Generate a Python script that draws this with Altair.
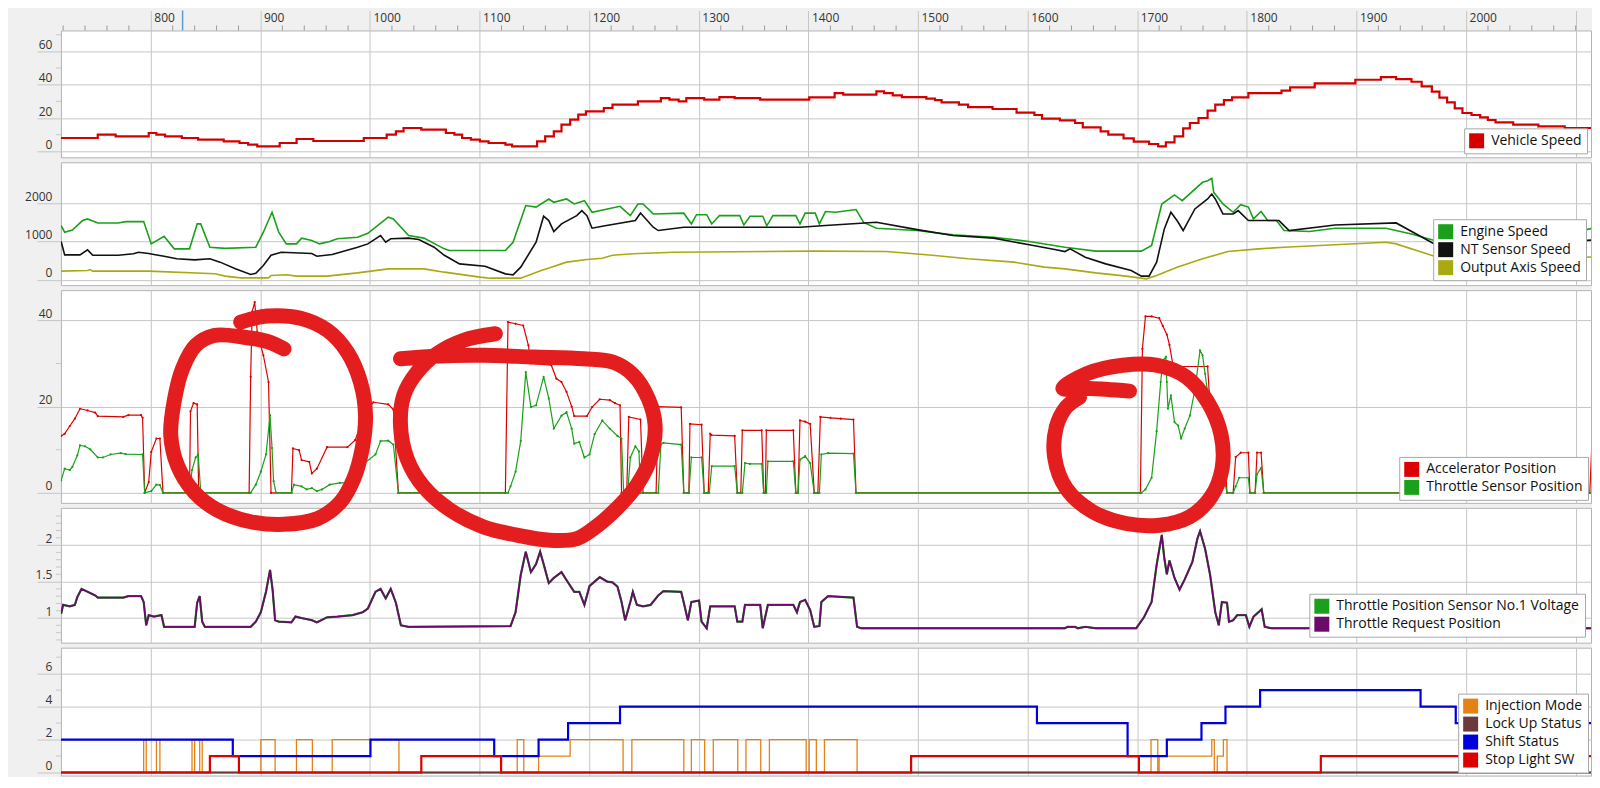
import altair as alt
import pandas as pd

FONT = "Open Sans"
GRID = "#c6c6c6"
W = 1532
X_DOMAIN = [718, 2114]

# ---------------- tick arrays ----------------
x_major = [800, 900, 1000, 1100, 1200, 1300, 1400, 1500, 1600, 1700, 1800, 1900, 2000, 2100]
x_minor = [720, 740, 760, 780, 820, 840, 860, 880, 920, 940, 960, 980, 1020, 1040, 1060, 1080,
           1120, 1140, 1160, 1180, 1220, 1240, 1260, 1280, 1320, 1340, 1360, 1380, 1420, 1440,
           1460, 1480, 1520, 1540, 1560, 1580, 1620, 1640, 1660, 1680, 1720, 1740, 1760, 1780,
           1820, 1840, 1860, 1880, 1920, 1940, 1960, 1980, 2020, 2040, 2060, 2080, 2100]
cursor_t = [829]

p1_ticks = [0, 20, 40, 60]
p1_minor = [10, 30, 50, 70]
p2_ticks = [0, 1000, 2000]
p2_minor = []
p3_ticks = [0, 20, 40]
p3_minor = [10, 30]
p4_ticks = [1, 1.5, 2]
p4_minor = [0.7, 0.8, 0.9, 1.1, 1.2, 1.3, 1.4, 1.6, 1.7, 1.8, 1.9, 2.1, 2.2, 2.3, 2.4]
p5_ticks = [0, 2, 4, 6]
p5_minor = [1, 3, 5, 7]

# ---------------- panel 1 ----------------
vehicle_speed = [
    (718, 8), (751.6, 10), (767.9, 9), (798.1, 11), (805.1, 10), (813, 9), (828.3, 8), (843.2, 7),
    (866.5, 6), (880.9, 5), (888.8, 4), (897.1, 3), (917.6, 5), (933, 7.4), (948.3, 6.2), (994.3, 8),
    (1015.2, 10), (1023.6, 12), (1030.6, 14), (1046.8, 13), (1069.2, 11), (1077, 10), (1084, 8),
    (1092, 7), (1100.3, 6), (1108.2, 5), (1123.5, 4), (1129.6, 3), (1152.4, 6), (1159.8, 9),
    (1167.7, 12), (1174.7, 16), (1182.6, 19), (1190, 22), (1197, 24), (1213.3, 26), (1221.2, 28),
    (1244.4, 30), (1265.4, 32), (1273.2, 31), (1281.6, 30), (1288.6, 32), (1304.9, 31), (1318.8, 32.5),
    (1332.7, 32), (1356, 31), (1400.7, 32.4), (1423.9, 35), (1431.8, 34), (1462, 36), (1469, 35),
    (1476.9, 33.6), (1485.3, 32.6), (1507.6, 31.6), (1515.5, 30.8), (1521.5, 29.4), (1537.3, 28),
    (1545.7, 26.6), (1568, 25.4), (1589.9, 23.2), (1606.2, 21.8), (1613.1, 19.6), (1629.4, 18.6),
    (1643.3, 17), (1650.3, 14.4), (1666.6, 12), (1673.6, 10), (1687.5, 7.8), (1696.8, 5.8),
    (1710.8, 4.4), (1719.1, 3), (1726.1, 5.4), (1734, 9), (1741.9, 13.8), (1748, 17), (1755.9, 20),
    (1764.2, 24.4), (1771.2, 28), (1779.1, 30.8), (1786.5, 32.4), (1801.4, 35), (1831.6, 36.4),
    (1839.5, 38.4), (1861.9, 40.8), (1899, 43), (1922.3, 44.6), (1936.2, 43.4), (1950.2, 41.8),
    (1959.5, 39), (1968.8, 35.8), (1975.7, 32.2), (1982.7, 29.4), (1989.7, 25.8), (1996.7, 23),
    (2005, 21.8), (2012.9, 20.4), (2019.9, 18.8), (2026.9, 17.4), (2043, 16), (2066, 15), (2090, 14),
    (2121, 14)]

# ---------------- panel 2 ----------------
engine_speed = [
    (718.2, 1417), (721.4, 1242), (728.4, 1300), (737.7, 1547), (742.3, 1590), (751.6, 1485),
    (770.2, 1485), (777.2, 1520), (793.5, 1520), (800.4, 937), (812.1, 1138), (821.4, 807),
    (835.3, 807), (842.3, 1459), (845.5, 1459), (853.9, 851), (867.9, 820), (895.8, 851),
    (902.7, 1242), (910.6, 1764), (916.7, 1242), (923.6, 937), (932.9, 937), (937.6, 1088),
    (946.9, 1024), (953.9, 937), (963.2, 1000), (970.1, 1070), (988.7, 1110), (998, 1215),
    (1016.6, 1634), (1021.3, 1590), (1035.2, 1155), (1049.2, 1088), (1067.8, 807), (1072.4, 763),
    (1123.5, 763), (1130.5, 980), (1142.1, 1939), (1151.5, 1900), (1163.1, 2111), (1167.7, 2025),
    (1179.3, 2111), (1186.3, 1980), (1195.6, 2068), (1202.6, 1764), (1228.1, 1920), (1237.5, 1677),
    (1244.4, 1980), (1249.1, 1980), (1258.4, 1720), (1286.3, 1740), (1293.2, 1459), (1297.9, 1700),
    (1307.2, 1700), (1311.8, 1459), (1318.8, 1677), (1337.4, 1677), (1341.1, 1432), (1346.7, 1660),
    (1358.3, 1660), (1362, 1410), (1367.6, 1677), (1388.5, 1677), (1392.3, 1459), (1397, 1740),
    (1406.2, 1740), (1410, 1459), (1415.5, 1783), (1424.8, 1764), (1443.4, 1835), (1450.4, 1500),
    (1462, 1347), (1499.2, 1286), (1531.8, 1172), (1569, 1110), (1601.5, 1000), (1634, 851),
    (1662, 747), (1703.8, 747), (1713.1, 895), (1722.4, 1980), (1734, 2216), (1741, 2068),
    (1759.6, 2547), (1764.2, 2590), (1768, 2652), (1769.8, 2285), (1778.2, 1980), (1787.5, 1764),
    (1794.4, 1960), (1801.4, 1900), (1806, 1590), (1813, 1783), (1819, 1547), (1827, 1547),
    (1834, 1286), (1857.2, 1260), (1880.4, 1347), (1927, 1347), (1950.2, 1198), (1971.1, 1024),
    (2000, 850), (2030, 700), (2060, 1000), (2121, 1380)]

nt_sensor_speed = [
    (718.2, 1000), (721.4, 650), (735.4, 650), (742.3, 781), (747, 640), (770.2, 640), (784.2, 680),
    (788.8, 720), (798.1, 684), (802.8, 660), (812.1, 616), (823.7, 547), (840, 520), (853.9, 547),
    (863.2, 460), (877.2, 285), (891.1, 138), (895.8, 168), (902.7, 373), (909.7, 640), (919, 720),
    (946.9, 684), (951.5, 616), (965.5, 660), (988.7, 851), (998, 937), (1009.6, 1156),
    (1014.3, 980), (1018.9, 1070), (1035.2, 1088), (1044.5, 1050), (1058.5, 851), (1067.8, 640),
    (1081.7, 415), (1104.9, 353), (1123.5, 154), (1130.5, 128), (1137.5, 329), (1151.5, 980),
    (1158.4, 1660), (1163.1, 1547), (1167.7, 1260), (1174.7, 1459), (1188.6, 1677), (1193.3, 1808),
    (1197.9, 1677), (1202.6, 1347), (1211.9, 1400), (1242.1, 1547), (1246.8, 1746), (1258.4, 1373),
    (1263, 1286), (1286.3, 1373), (1392.3, 1373), (1415.5, 1416), (1462, 1503), (1499.2, 1310),
    (1531.8, 1155), (1569, 1088), (1601.5, 913), (1624.8, 790), (1634, 737), (1638.7, 806),
    (1652.6, 590), (1671.2, 415), (1694.5, 240), (1703.8, 94), (1710.8, 94), (1717.7, 460),
    (1724.7, 1329), (1730.7, 1764), (1736.3, 1547), (1741.9, 1286), (1752.6, 1850), (1764.2, 2111),
    (1768, 2240), (1771.2, 2111), (1778.2, 1720), (1787.5, 1720), (1792.1, 1808), (1801.4, 1547),
    (1829.3, 1547), (1838.6, 1286), (1880.4, 1432), (1936.2, 1485), (1971.1, 937), (2000, 800),
    (2121, 1050)]

output_axis_speed = [
    (718.2, 225), (742.3, 240), (744.7, 265), (747, 225), (798.1, 225), (858.6, 155), (867.9, 94),
    (881.8, 50), (907.4, 50), (909.7, 111), (923.6, 130), (932.9, 94), (960.8, 94), (988.7, 180),
    (1016.6, 285), (1049.2, 285), (1067.8, 198), (1100.3, 68), (1109.6, 41), (1137.5, 41),
    (1156.1, 240), (1165.4, 329), (1179.3, 460), (1197.9, 530), (1211.9, 563), (1221.2, 640),
    (1239.8, 680), (1277, 720), (1406.2, 747), (1471.3, 737), (1513.2, 640), (1545.7, 547),
    (1587.6, 460), (1615.4, 329), (1634, 285), (1662, 180), (1689.8, 94), (1708.4, 24),
    (1717.7, 111), (1736.3, 329), (1759.6, 547), (1782.8, 737), (1810.7, 806), (1834, 851),
    (1880.4, 913), (1927, 980), (1936.2, 937), (1971.1, 616), (2000, 500), (2121, 600)]

# ---------------- panel 3 ----------------
accelerator_position = [
    (718.2, 13.2), (721.4, 13.7), (726.1, 15.5), (730.7, 17.2), (735.4, 19.5), (742.3, 19.1),
    (749.3, 18.6), (751.6, 17.8), (774.9, 17.6), (779.5, 18), (791.1, 18), (792.5, 17.4), (794.4, 0),
    (798.1, 2.5), (800.4, 9.5), (805.1, 12.6), (808.3, 12.6), (811.1, 0), (835.3, 0), (836.2, 18.9),
    (839, 20.8), (842.3, 20.5), (843.7, 0), (889.7, 0), (891.1, 26.9), (892.5, 42), (894.8, 44.2),
    (897.1, 37.3), (902.7, 31.9), (907.4, 25.7), (909.7, 0), (928.3, 0), (929.7, 10.3),
    (935.3, 9.9), (937.6, 7.6), (944.6, 7.2), (946.9, 4.5), (951.5, 5.6), (960.8, 10.6),
    (979.4, 10.6), (986.4, 12.2), (995, 18), (1003, 21), (1016.6, 20.5), (1021.3, 19.3),
    (1025.9, 0), (1123.5, 0), (1125.9, 39.6), (1132.8, 39.2), (1139.8, 38.8), (1144.5, 34.2),
    (1146.8, 30), (1165.4, 29.6), (1170, 26.5), (1174.7, 25.7), (1179.3, 23.4), (1184, 20),
    (1186.3, 17.8), (1197.9, 17.8), (1202.6, 19.9), (1209.6, 21.7), (1218.8, 21.5), (1223.5, 20.8),
    (1228.1, 20.3), (1229.5, 0), (1234.2, 0), (1236.1, 17.6), (1246.8, 17), (1249.1, 0), (1261, 0),
    (1263, 20), (1283.9, 19.8), (1286.3, 0), (1290.9, 0), (1291.9, 16), (1302.5, 15.8),
    (1304.9, 0), (1308.6, 0), (1310.4, 13.7), (1311.5, 13.4), (1332.7, 13.2), (1335.1, 0),
    (1338.3, 0), (1339.7, 14.5), (1357.4, 14.5), (1359.2, 0), (1360.7, 0), (1361.6, 14.5),
    (1386.2, 14.5), (1388.5, 0), (1390.5, 0), (1392.3, 16.8), (1397, 16.5), (1401.6, 16),
    (1405.3, 0), (1408.6, 0), (1410.9, 17.6), (1420.2, 17.4), (1429.5, 17.2), (1441.1, 17),
    (1443.4, 0), (1702.9, 0), (1704.7, 33.4), (1707.5, 40.9), (1713.1, 40.9), (1720.1, 40.5),
    (1723.3, 38.7), (1727, 36.7), (1729.4, 34.3), (1732.6, 29.6), (1736.3, 29.3), (1764.2, 29.3),
    (1766.5, 20), (1778.2, 14), (1781.9, 0), (1787.5, 0), (1789.8, 8.3), (1794.4, 9.3),
    (1801.4, 9.3), (1802.8, 0), (1807.5, 0), (1809.3, 9.3), (1813, 9.3), (1815.4, 0), (2112.9, 0),
    (2115, 12.6), (2121, 13)]

throttle_sensor_position = [
    (718.2, 2.9), (721.4, 5.6), (726.1, 5.3), (728.4, 6), (733, 8.7), (735.4, 11), (740, 10.8),
    (744.7, 10.1), (751.6, 8.2), (756.3, 8.2), (763.3, 8.9), (772.5, 9.2), (777.2, 9),
    (792.5, 8.9), (794.4, 0), (800.4, 0.4), (805.1, 1.9), (808.3, 1.8), (811.1, 0), (835.3, 0),
    (837.6, 5.3), (840.9, 8.2), (843.2, 8.9), (845.5, 0.4), (846.9, 0), (891.1, 0), (895.8, 1.9),
    (900.4, 4.9), (905.1, 8.9), (908.8, 18), (910.6, 10.4), (912, 2.7), (914.3, 0), (928.3, 0),
    (930.6, 1.9), (937.6, 1.5), (942.2, 0.8), (946.9, 1.1), (951.5, 0.4), (956.2, 0.8),
    (963.2, 1.9), (972.5, 2.3), (979.4, 2.3), (988.7, 5.6), (1005, 8.9), (1009.6, 12),
    (1016.6, 12.1), (1021.3, 11.2), (1025.9, 0), (1125.9, 0), (1128.2, 1.5), (1132.8, 4.9),
    (1137.5, 12), (1142.1, 28), (1146.8, 19.9), (1151.5, 20.3), (1158.4, 26.9), (1163.1, 21.9),
    (1167.7, 14.9), (1174.7, 17.9), (1179.3, 18.7), (1184, 14.9), (1186.3, 11.4), (1191, 11.8),
    (1195.6, 8.2), (1200.3, 8.9), (1204.9, 13.6), (1211.9, 16.8), (1218.8, 14.9), (1225.8, 13.2),
    (1229.5, 12.6), (1231.4, 0), (1235.1, 0), (1237.5, 8.2), (1242.1, 10.8), (1245.4, 9.6),
    (1246.8, 0), (1263, 0), (1265.4, 11.2), (1267.7, 11.6), (1283.9, 11.2), (1286.3, 0),
    (1290.9, 0), (1293.2, 8.2), (1302.5, 8.2), (1304.9, 0), (1309.5, 0), (1311.8, 6.2),
    (1332.7, 6.2), (1335.1, 0), (1339.7, 0), (1342.1, 6.9), (1346.7, 6.7), (1357.4, 6.7),
    (1359.2, 0), (1361.6, 0), (1363, 7.3), (1386.2, 7.3), (1388.5, 0), (1390.5, 0), (1392.3, 7.7),
    (1397, 8.5), (1401.6, 6.9), (1405.3, 0), (1410, 0), (1411.8, 8.9), (1417.9, 9.2),
    (1441.1, 9.1), (1443.4, 0), (1703.8, 0), (1707.5, 0.8), (1713.1, 3.5), (1717.7, 14.3),
    (1721.4, 25.7), (1723.3, 30.7), (1726.1, 31.5), (1727, 25.7), (1728, 19.5), (1730.7, 22.6),
    (1734, 16.4), (1737.3, 15.6), (1740, 12.6), (1743.3, 14.9), (1748, 17.9), (1752.6, 23.9),
    (1757.3, 33), (1759.6, 31.9), (1761.9, 27.6), (1765.6, 20.8), (1773.5, 10.4), (1781.9, 0),
    (1787.5, 0), (1789.8, 1.5), (1793, 3.5), (1801.4, 3.5), (1802.8, 0), (1807.5, 0),
    (1809.3, 4.3), (1813, 5.8), (1815.4, 0), (2121, 0)]

# ---------------- panel 4 (both series overlap in the reference) ----------------
throttle_request_position = [
    (718.2, 1.06), (720, 1.18), (726.1, 1.16), (730.7, 1.18), (733, 1.29), (736.8, 1.4),
    (742.3, 1.36), (749.3, 1.31), (751.6, 1.28), (774.9, 1.28), (779.5, 1.3), (791.1, 1.3),
    (793.5, 1.22), (795.8, 0.9), (798.1, 1.04), (802.8, 1.02), (809.7, 1.04), (812.1, 0.88),
    (840, 0.88), (842.3, 1.21), (844.6, 1.3), (846.9, 0.95), (849.3, 0.88), (891.1, 0.88),
    (895.8, 0.95), (900.4, 1.08), (905.1, 1.36), (908.8, 1.66), (911.1, 1.39), (913.4, 0.97),
    (916.7, 0.95), (928.3, 0.94), (932, 1.02), (937.6, 1.0), (946.9, 0.97), (951.5, 0.94),
    (960.8, 1.01), (970.1, 1.02), (984.1, 1.04), (993.4, 1.08), (998, 1.13), (1005, 1.36),
    (1009.6, 1.4), (1014.3, 1.27), (1018.9, 1.4), (1023.6, 1.21), (1028.2, 0.9), (1035.2, 0.88),
    (1128.2, 0.89), (1132.8, 1.08), (1137.5, 1.59), (1142.1, 1.91), (1146.8, 1.63),
    (1151.5, 1.74), (1155.2, 1.91), (1158.4, 1.74), (1163.1, 1.48), (1167.7, 1.55),
    (1174.7, 1.63), (1179.3, 1.52), (1186.3, 1.36), (1191, 1.36), (1195.6, 1.18), (1200.3, 1.44),
    (1209.6, 1.56), (1216.5, 1.5), (1221.2, 1.49), (1225.8, 1.43), (1229.5, 1.22), (1232.8, 0.97),
    (1237.5, 1.22), (1239.8, 1.36), (1243.5, 1.18), (1249.1, 1.16), (1256, 1.18), (1263, 1.31),
    (1267.7, 1.37), (1283.9, 1.36), (1286.3, 1.21), (1290, 0.97), (1293.2, 1.22), (1300.2, 1.24),
    (1302.5, 0.95), (1307.2, 0.86), (1310.4, 1.16), (1332.7, 1.16), (1335.1, 0.95),
    (1339.7, 0.95), (1342.1, 1.18), (1356, 1.18), (1358.3, 0.86), (1363, 1.18), (1386.2, 1.18),
    (1389.5, 1.08), (1392.3, 1.22), (1397, 1.25), (1401.6, 1.11), (1405.3, 0.88), (1410, 0.89),
    (1411.8, 1.22), (1417.9, 1.3), (1441.1, 1.28), (1444.4, 0.88), (1448.1, 0.86), (1634, 0.86),
    (1636.4, 0.88), (1643.3, 0.88), (1645.7, 0.86), (1652.6, 0.88), (1662, 0.86), (1699.1, 0.86),
    (1706.1, 1.01), (1713.1, 1.22), (1717.7, 1.73), (1722.4, 2.14), (1724.7, 1.82), (1727, 1.6),
    (1729.4, 1.79), (1734, 1.55), (1738.6, 1.39), (1743.3, 1.53), (1750.3, 1.77), (1754.9, 2.09),
    (1757.3, 2.19), (1761.9, 1.95), (1766.5, 1.59), (1771.2, 1.08), (1774.4, 0.9), (1777.2, 1.22),
    (1781.9, 1.21), (1783.7, 0.95), (1787.5, 0.97), (1791.2, 1.04), (1799.1, 1.04),
    (1802.3, 0.88), (1806.1, 1.02), (1810.7, 1.08), (1813.5, 1.12), (1816.3, 0.88),
    (1822.3, 0.86), (2117.5, 0.86), (2121, 1.1)]
throttle_sensor_voltage = throttle_request_position

# ---------------- panel 5 (step values) ----------------
injection_mode = [
    (718, 0), (793.5, 2), (795.8, 0), (805.1, 2), (808.3, 0), (837.6, 2), (840, 0), (844.6, 2),
    (846.9, 0), (900.4, 2), (913.4, 0), (932.9, 2), (947.4, 0), (965.5, 2), (1026.4, 0),
    (1134.3, 2), (1140.3, 0), (1153.8, 1), (1182.6, 2), (1230.9, 0), (1238.9, 2), (1286.3, 0),
    (1293.2, 2), (1305.3, 0), (1313.2, 2), (1335.5, 0), (1343, 2), (1356.5, 0), (1364.4, 2),
    (1397.9, 0), (1400.7, 2), (1407.2, 0), (1414.6, 2), (1444.4, 0), (1712.6, 2), (1718.7, 0),
    (1720, 1), (1768, 2), (1770.3, 0), (1773, 1), (1778.6, 2), (1781.9, 0), (2121, 0)]
lock_up_status = [(718, 0), (2121, 0)]
shift_status = [
    (718, 2), (874.8, 1), (1000.4, 2), (1113.3, 1), (1153.8, 2), (1180.7, 3), (1228.1, 4),
    (1608.5, 3), (1691.2, 1), (1727, 2), (1758.6, 3), (1780.5, 4), (1812.1, 5), (1958.5, 4),
    (1990.6, 3), (2121, 3)]
stop_light_sw = [
    (718, 0), (851.6, 0), (853.9, 1), (879.5, 1), (880.4, 0), (1045.4, 0), (1046.8, 1),
    (1118.9, 1), (1119.6, 0), (1492.3, 0), (1493.7, 1), (1700.5, 1), (1701.5, 0), (1866.5, 0),
    (1867.5, 1), (2121, 1)]

# ---------------- hand-drawn annotation circles (x in time, y in panel-3 units) ----------------
circle_1 = [
    (882.0, 39.6), (906.3, 41.0), (936.7, 40.5), (961.0, 37.7), (979.2, 32.7), (991.3, 25.7),
    (995.9, 18.0), (992.9, 10.3), (985.2, 3.3), (973.1, -2.1), (951.9, -6.0), (921.5, -7.3),
    (891.1, -6.7), (860.8, -4.0), (839.5, 0.2), (824.3, 6.4), (818.2, 13.4), (821.2, 21.1),
    (828.9, 28.8), (841.0, 34.2), (857.7, 36.5), (885.0, 36.1), (906.3, 35.1), (921.5, 33.4)]
circle_2 = [
    (1027.8, 31.1), (1058.1, 31.7), (1103.7, 31.9), (1149.2, 31.5), (1194.8, 31.1),
    (1222.1, 30.3), (1240.4, 27.3), (1254.0, 21.8), (1260.1, 15.7), (1255.6, 7.9), (1243.5, 1.8),
    (1225.2, -3.6), (1203.9, -8.3), (1188.8, -10.6), (1164.5, -11.0), (1134.1, -9.8),
    (1103.7, -7.9), (1073.3, -4.0), (1049.0, 1.4), (1033.9, 7.9), (1027.8, 15.7), (1030.8, 22.6),
    (1043.0, 28.0), (1061.2, 32.3), (1085.5, 35.4), (1114.4, 36.9)]
circle_3 = [
    (1692.9, 23.6), (1656.5, 24.2), (1632.2, 24.2), (1653.5, 27.6), (1686.8, 29.6),
    (1717.3, 29.6), (1744.6, 26.9), (1764.3, 21.1), (1776.5, 13.4), (1777.4, 5.6), (1767.4, -0.9),
    (1747.6, -5.6), (1720.3, -7.5), (1689.9, -7.1), (1659.5, -4.4), (1635.3, 1.0), (1624.6, 8.3),
    (1626.2, 15.3), (1635.3, 19.9), (1647.4, 22.2)]


def frame(series):
    rows = []
    for name, pts in series:
        for t, v in pts:
            rows.append({"t": t, "v": v, "s": name})
    return pd.DataFrame(rows)


def circles_frame(circles):
    rows = []
    for cid, pts in enumerate(circles):
        for i, (t, v) in enumerate(pts):
            rows.append({"t": t, "v": v, "id": cid, "i": i})
    return pd.DataFrame(rows)


XSCALE = alt.Scale(domain=X_DOMAIN, nice=False, zero=False)
VIEW = alt.ViewBackground(fill="white", stroke="#b4b4b4", strokeWidth=1)


def xenc(top=False):
    if top:
        ax = alt.Axis(orient="top", values=x_major, grid=True, gridColor=GRID, tickSize=20,
                      tickColor=GRID, labelAlign="left", labelBaseline="bottom", labelPadding=-14,
                      labelOffset=3, labelFontSize=12, labelColor="#333", labelFont=FONT,
                      domain=False, title=None, format="d", minExtent=20, maxExtent=20,
                      labelFlush=False, labelOverlap=False,
                      labelExpr="datum.value >= 2100 ? '' : datum.label")
    else:
        ax = alt.Axis(orient="bottom", values=x_major, grid=True, gridColor=GRID, labels=False,
                      ticks=False, domain=False, title=None, minExtent=0, maxExtent=0)
    return alt.X("t:Q", scale=XSCALE, axis=ax)


def yenc(domain, values):
    return alt.Y("v:Q", scale=alt.Scale(domain=domain, nice=False, zero=False),
                 axis=alt.Axis(values=values, format="~r", grid=True, gridColor=GRID, tickSize=24,
                               tickColor=GRID, labelPadding=-15, labelAlign="right",
                               labelBaseline="bottom", labelFontSize=12, labelColor="#333",
                               labelFont=FONT, domain=False, title=None, minExtent=52,
                               maxExtent=52, labelOverlap=False, labelFlush=False))


def legend(offset):
    return alt.Legend(title=None, orient="bottom-right", offset=offset, fillColor="white",
                      strokeColor="#a8a8a8", padding=5, symbolType="square", symbolSize=225,
                      symbolStrokeWidth=0, labelFont=FONT, labelFontSize=14, labelColor="#111",
                      rowPadding=3, labelLimit=500, labelOffset=7)


def panel(series, colors, domain, ticks, minor, height, offset, widths, interp, top=False,
          points=False, extra_top=None, view=True):
    names = [n for n, _ in series]
    cscale = alt.Scale(domain=names, range=colors)
    X = xenc(top)
    Y = yenc(domain, ticks)
    empty = pd.DataFrame({"t": pd.Series([], dtype=float), "v": pd.Series([], dtype=float),
                          "s": pd.Series([], dtype=str)})
    layers = [alt.Chart(empty).mark_square(filled=True, opacity=1, size=225).encode(
        x=X, y=Y, color=alt.Color("s:N", scale=cscale, legend=legend(offset)))]
    for (name, pts), w in zip(series, widths):
        mk = dict(strokeWidth=w, interpolate=interp, clip=True)
        if points:
            mk["point"] = alt.OverlayMarkDef(size=5, filled=True, clip=True)
        layers.append(alt.Chart(frame([(name, pts)])).mark_line(**mk).encode(
            x=X, y=Y, color=alt.Color("s:N", scale=cscale, legend=None)))
    if minor:
        layers.append(alt.Chart(pd.DataFrame({"v": minor})).mark_rule(color=GRID).encode(
            x=alt.value(-5), x2=alt.value(0), y=Y))
    if extra_top is not None:
        layers.extend(extra_top)
    ch = alt.layer(*layers).properties(width=W, height=height)
    if view:
        ch = ch.properties(view=VIEW)
    return ch


# header ticks for panel 1 (inside the top axis band)
hdr_minor = alt.Chart(pd.DataFrame({"t": x_minor})).mark_rule(color="#9a9a9a").encode(
    x=alt.X("t:Q", scale=XSCALE), y=alt.value(-5), y2=alt.value(0))
hdr_cursor = alt.Chart(pd.DataFrame({"t": cursor_t})).mark_rule(color="#5b9bd5", strokeWidth=1.5).encode(
    x=alt.X("t:Q", scale=XSCALE), y=alt.value(-20), y2=alt.value(0))

p1 = panel([("Vehicle Speed", vehicle_speed)], ["#d40000"], [-3.6, 72.6], p1_ticks, p1_minor,
           127, 4, [2.2], "step-after", top=True, extra_top=[hdr_minor, hdr_cursor])

p2 = panel([("Engine Speed", engine_speed), ("NT Sensor Speed", nt_sensor_speed),
            ("Output Axis Speed", output_axis_speed)],
           ["#1aa01a", "#111111", "#a9a912"], [-141, 3070], p2_ticks, p2_minor, 123, 5,
           [1.6, 1.6, 1.6], "linear")

p3 = panel([("Accelerator Position", accelerator_position),
            ("Throttle Sensor Position", throttle_sensor_position)],
           ["#dd0000", "#1aa01a"], [-2.32, 47.0], p3_ticks, p3_minor, 213, 3, [1.2, 1.2],
           "linear", points=True)

p4_base = panel([("Throttle Position Sensor No.1 Voltage", throttle_sensor_voltage),
                 ("Throttle Request Position", throttle_request_position)],
                ["#1aa01a", "#6a0a6a"], [0.662, 2.511], p4_ticks, p4_minor, 135, 6, [2.2, 1.8],
                "linear", view=False)
circles = alt.Chart(circles_frame([circle_1, circle_2, circle_3])).mark_line(
    color="#e41e1e", strokeWidth=15, strokeCap="round", strokeJoin="round",
    interpolate="catmull-rom", clip=False).encode(
    x=alt.X("t:Q", scale=XSCALE),
    y=alt.Y("v:Q", scale=alt.Scale(domain=[-34.74, -3.474], nice=False, zero=False), axis=None),
    detail="id:N", order="i:Q")
p4 = alt.layer(p4_base, circles).resolve_scale(y="independent").properties(
    width=W, height=135, view=VIEW)

p5 = panel([("Injection Mode", injection_mode), ("Lock Up Status", lock_up_status),
            ("Shift Status", shift_status), ("Stop Light SW", stop_light_sw)],
           ["#e58214", "#6b3a3a", "#0000dd", "#dd0000"], [-0.182, 7.576], p5_ticks, p5_minor,
           128, 3, [1.3, 2.2, 2.2, 2.2], "step-after")

chart = alt.vconcat(p1, p2, p3, p4, p5, spacing=5, bounds="flush").resolve_scale(
    color="independent").resolve_legend(color="independent").properties(
    padding=0, background="#f0f0f0").configure_view(
    fill="white", stroke="#b4b4b4", strokeWidth=1).configure(font=FONT)

chart.save("out.html", embed_options={"renderer": "svg", "actions": False})
